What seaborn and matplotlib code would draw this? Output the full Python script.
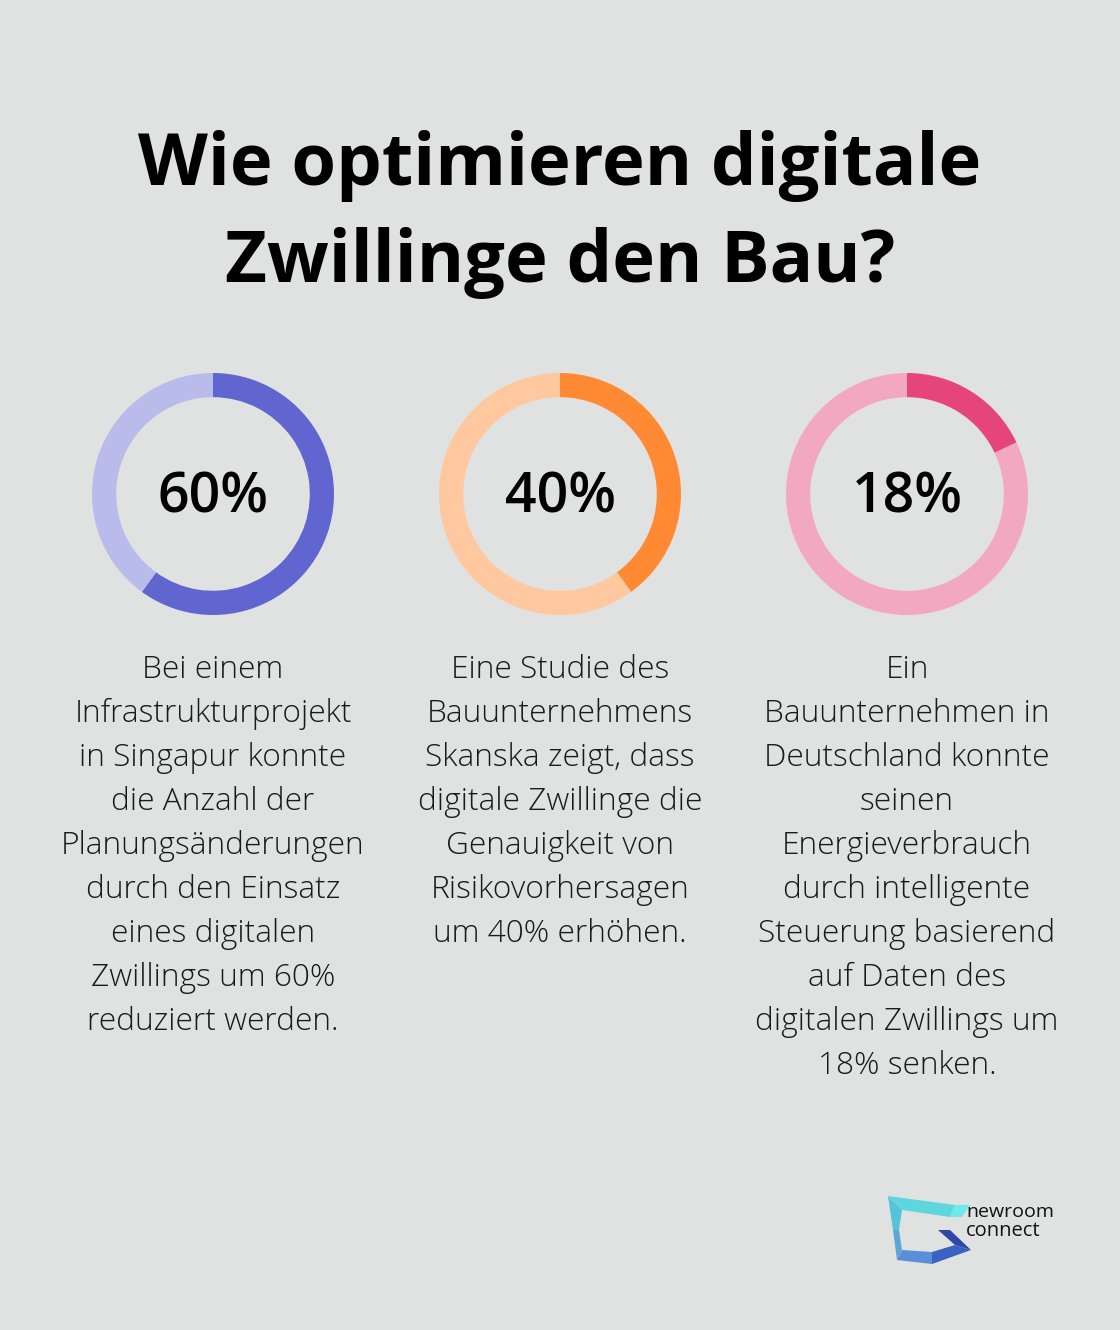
import matplotlib
matplotlib.use("Agg")
import matplotlib.pyplot as plt
from matplotlib.patches import Polygon
import seaborn as sns

# ---- data ----
percentages = [60, 40, 18]
labels = ["60%", "40%", "18%"]
dark_colors = ["#6065CF", "#FF8A33", "#E5457A"]
light_colors = ["#B9BBEA", "#FFC89E", "#F2A8C0"]
descriptions = [
    ["Bei einem", "Infrastrukturprojekt", "in Singapur konnte", "die Anzahl der",
     "Planungsänderungen", "durch den Einsatz", "eines digitalen",
     "Zwillings um 60%", "reduziert werden."],
    ["Eine Studie des", "Bauunternehmens", "Skanska zeigt, dass",
     "digitale Zwillinge die", "Genauigkeit von", "Risikovorhersagen",
     "um 40% erhöhen."],
    ["Ein", "Bauunternehmen in", "Deutschland konnte", "seinen",
     "Energieverbrauch", "durch intelligente", "Steuerung basierend",
     "auf Daten des", "digitalen Zwillings um", "18% senken."],
]
title_lines = ["Wie optimieren digitale", "Zwillinge den Bau?"]

BG = "#E0E2E1"
W, H = 1120, 1330

sns.set_theme(style="white")
plt.rcParams["font.family"] = ["Open Sans", "DejaVu Sans"]

fig = plt.figure(figsize=(W / 100, H / 100), dpi=100)
fig.patch.set_facecolor(BG)

def fx(x):
    return x / W

def fy(y):
    return 1 - y / H

# title
for y, line in zip([166, 263], title_lines):
    fig.text(fx(560), fy(y), line, ha="center", va="center",
             fontsize=52, fontweight="bold", color="#000000")

centers_x = [213, 560, 907]
cy = 494
R = 121
for cx, p, lab, dc, lc, desc in zip(centers_x, percentages, labels,
                                     dark_colors, light_colors, descriptions):
    ax = fig.add_axes([fx(cx - R), fy(cy + R), 2 * R / W, 2 * R / H])
    ax.set_facecolor(BG)
    ax.pie([p, 100 - p], colors=[dc, lc], startangle=90, counterclock=False,
           radius=1.0, wedgeprops=dict(width=0.2, linewidth=0))
    ax.set_xlim(-1, 1)
    ax.set_ylim(-1, 1)
    ax.set_aspect("equal")
    ax.axis("off")
    ax.text(0, -0.04, lab, ha="center", va="center", fontsize=40,
            fontweight="semibold", color="#000000")
    for i, line in enumerate(desc):
        fig.text(fx(cx), fy(670 + 44 * i), line, ha="center", va="center",
                 fontsize=22.8, fontweight="light", color="#1a1a1a")

# logo
lax = fig.add_axes([0, 0, 1, 1], zorder=-1)
lax.set_xlim(0, W)
lax.set_ylim(H, 0)
lax.axis("off")
lax.patch.set_alpha(0)
polys = [
    ([(888, 1196), (955, 1205), (950, 1217), (902, 1210)], "#5DD6DE"),
    ([(955, 1205), (970, 1205), (962, 1217), (950, 1217)], "#6EE8EA"),
    ([(888, 1196), (902, 1210), (899, 1230), (893, 1230)], "#55C3DA"),
    ([(893, 1230), (899, 1230), (902, 1250), (897, 1260)], "#5FA6D6"),
    ([(897, 1260), (902, 1250), (932, 1252), (932, 1264)], "#5B8ED8"),
    ([(932, 1252), (955, 1245), (971, 1250), (932, 1264)], "#3A62C2"),
    ([(938, 1230), (950, 1230), (971, 1250), (955, 1245)], "#2F48A8"),
]
for pts, col in polys:
    lax.add_patch(Polygon(pts, closed=True, facecolor=col, edgecolor="none"))
fig.text(fx(966), fy(1212), "newroom", ha="left", va="center",
         fontsize=14, color="#111111")
fig.text(fx(966), fy(1231), "connect", ha="left", va="center",
         fontsize=14.5, color="#111111")

fig.savefig("out.png", dpi=100, facecolor=BG)
